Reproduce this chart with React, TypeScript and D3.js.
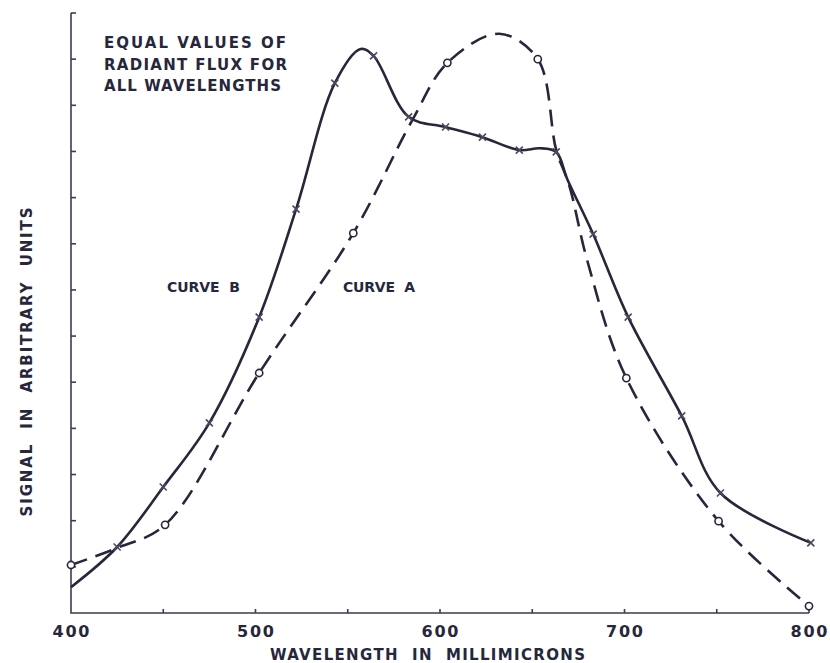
import * as d3 from 'd3'

// wavelength (millimicrons) and signal (arbitrary units)
const curveBMeasured: [number, number][] = [
  [425, 1.43], [450, 2.73], [475, 4.12], [502, 6.41], [522, 8.75], [543, 11.48],
  [564, 12.07], [583, 10.75], [603, 10.53], [623, 10.31], [643, 10.03], [663, 9.99],
  [683, 8.21], [702, 6.41], [731, 4.27], [752, 2.6], [801, 1.52],
]
// points of the drawn curve B that carry no marker
const curveBTrace: [number, number][] = [
  [400, 0.56], [557, 12.22], [654, 10.07], [669, 9.4],
]

const curveAMeasured: [number, number][] = [
  [400, 1.04], [451, 1.91], [502, 5.2], [553, 8.23], [604, 11.92], [653, 12.0],
  [701, 5.09], [751, 1.99], [800, 0.15],
]
const curveATrace: [number, number][] = [
  [425, 1.41], [585, 10.68], [632, 12.55], [663, 10.03], [670, 9.27], [680, 7.61],
]

const wavelengthLabels = [400, 500, 600, 700, 800]
const wavelengthMinor = [450, 550, 650, 750]
const signalTicks = [1, 2, 3, 4, 5, 6, 7, 8, 9, 10, 11, 12, 13]

const noteLines = ['EQUAL VALUES OF', 'RADIANT FLUX FOR', 'ALL WAVELENGTHS']

const INK = '#27273b'
const FONT = '"DejaVu Sans", sans-serif'
const SP = '\u00a0\u00a0'

const merge = (a: [number, number][], b: [number, number][]) =>
  [...a, ...b].sort((p, q) => p[0] - q[0])

export default function App() {
  const width = 830
  const height = 663

  const x = d3.scaleLinear().domain([400, 800]).range([71, 809])
  const y = d3.scaleLinear().domain([0, 13]).range([613, 13])

  const line = d3.line<[number, number]>()
    .x(d => x(d[0]))
    .y(d => y(d[1]))
    .curve(d3.curveCatmullRom.alpha(0.5))

  const pathB = line(merge(curveBMeasured, curveBTrace)) || ''
  const pathA = line(merge(curveAMeasured, curveATrace)) || ''

  return (
    <svg
      width={width}
      height={height}
      style={{ position: 'absolute', left: 0, top: 0, background: '#fff' }}
      fontFamily={FONT}
      fontWeight="bold"
    >
      {/* axes */}
      <g stroke="#3c3c4e" strokeWidth={1.6} fill="none">
        <path d={`M${x(400)},${y(13)}V${y(0)}H${x(800)}`} />
        {signalTicks.map(t => (
          <line key={t} x1={x(400)} x2={x(400) + 5} y1={y(t)} y2={y(t)} />
        ))}
        {[...wavelengthMinor, ...wavelengthLabels.slice(1)].map(t => (
          <line key={t} x1={x(t)} x2={x(t)} y1={y(0)} y2={y(0) - 4} />
        ))}
      </g>

      {/* curves */}
      <path d={pathB} fill="none" stroke={INK} strokeWidth={2.6} />
      <path d={pathA} fill="none" stroke={INK} strokeWidth={2.6} strokeDasharray="17,9" />

      {curveBMeasured.map(([w, s]) => (
        <g key={w} transform={`translate(${x(w)},${y(s)})`} stroke="#4a4a60" strokeWidth={1.6}>
          <line x1={-3.5} y1={-3.5} x2={3.5} y2={3.5} />
          <line x1={-3.5} y1={3.5} x2={3.5} y2={-3.5} />
        </g>
      ))}
      {curveAMeasured.map(([w, s]) => (
        <circle key={w} cx={x(w)} cy={y(s)} r={3.6} fill="#fff" stroke={INK} strokeWidth={1.6} />
      ))}

      {/* text */}
      <g fill={INK} fontSize={15}>
        {noteLines.map((t, i) => (
          <text key={t} x={104} y={48 + i * 21.5} textLength={[182, 183, 177][i]} lengthAdjust="spacing">
            {t.replace(/ /g, '\u00a0')}
          </text>
        ))}
        <text x={167} y={292} fontSize={14} textLength={73} lengthAdjust="spacing">{`CURVE${SP}B`}</text>
        <text x={343} y={292} fontSize={14} textLength={72} lengthAdjust="spacing">{`CURVE${SP}A`}</text>
        {wavelengthLabels.map(t => (
          <text key={t} x={x(t)} y={637} fontSize={16} textAnchor="middle" textLength={37} lengthAdjust="spacing">
            {t}
          </text>
        ))}
        <text x={270} y={660} textLength={315} lengthAdjust="spacing">
          {`WAVELENGTH${SP}IN${SP}MILLIMICRONS`}
        </text>
        <text
          transform="translate(32,362) rotate(-90)"
          textAnchor="middle"
          textLength={309}
          lengthAdjust="spacing"
        >
          {`SIGNAL${SP}IN${SP}ARBITRARY${SP}UNITS`}
        </text>
      </g>
    </svg>
  )
}
